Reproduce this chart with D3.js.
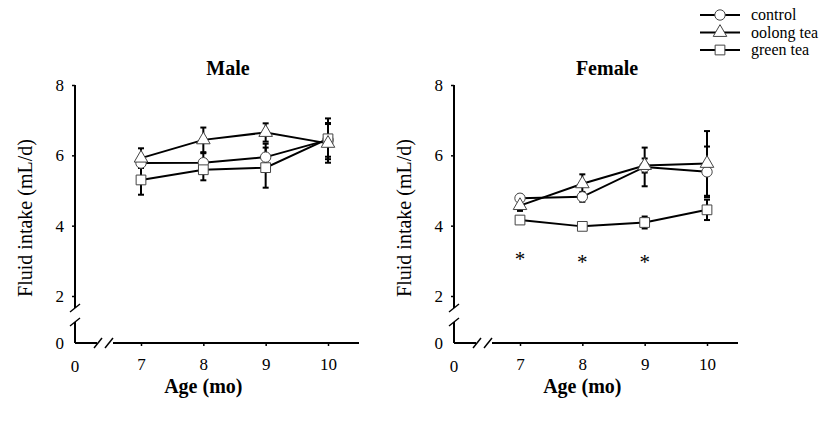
<!DOCTYPE html>
<html>
<head>
<meta charset="utf-8">
<script src="https://cdn.jsdelivr.net/npm/d3@7"></script>
<style>
  body { margin: 0; background: #fff; }
  svg text { font-family: "Liberation Serif", "DejaVu Serif", "Times New Roman", serif; }
</style>
</head>
<body>
<svg width="827" height="422"></svg>
<script>
var width = 827;
var height = 422;

var ages = [7, 8, 9, 10];
var yTicks = [2, 4, 6, 8];
var seriesNames = ["control", "oolong tea", "green tea"];
var seriesShapes = ["circle", "triangle", "square"];

// male means / errors
var maleControl = [5.78, 5.79, 5.95, 6.44];
var maleOolong = [5.92, 6.44, 6.65, 6.34];
var maleGreen = [5.30, 5.59, 5.65, 6.47];
var maleControlErr = [0.12, 0.27, 0.38, 0.48];
var maleOolongErr = [0.28, 0.35, 0.26, 0.55];
var maleGreenErr = [0.42, 0.30, 0.57, 0.58];

// female means / errors
var femaleControl = [4.78, 4.82, 5.67, 5.53];
var femaleOolong = [4.57, 5.19, 5.71, 5.77];
var femaleGreen = [4.16, 3.98, 4.09, 4.45];
var femaleControlErr = [0.10, 0.14, 0.55, 0.72];
var femaleOolongErr = [0.15, 0.27, 0.20, 0.92];
var femaleGreenErr = [0.08, 0.06, 0.17, 0.29];

// significance marks (female)
var sigAges = [7, 8, 9];
var sigY = [3.2, 3.1, 3.1];

var svg = d3.select("svg")
              .attr("width", width)
              .attr("height", height);

var y = d3.scaleLinear().domain([2, 8]).range([296, 85]);
var yZero = 343;

function symbolPath(shape) {
  if (shape == "circle") return d3.symbol().type(d3.symbolCircle).size(85)();
  if (shape == "square") return d3.symbol().type(d3.symbolSquare).size(95)();
  return d3.symbol().type(d3.symbolTriangle).size(80)();
}

function drawPanel(px, title, series, sig) {
  var g = svg.append("g");
  var x = d3.scaleLinear().domain([7, 10]).range([px + 66, px + 253]);
  var xEnd = px + 284;

  // axes lines with breaks
  var axisLines = [
    [px, 85, px, 308],
    [px, 322, px, yZero],
    [px, yZero, px + 22, yZero],
    [px + 38, yZero, xEnd, yZero]
  ];
  g.selectAll(".axl").data(axisLines).enter().append("line")
    .attr("x1", d => d[0]).attr("y1", d => d[1])
    .attr("x2", d => d[2]).attr("y2", d => d[3])
    .attr("stroke", "#000").attr("stroke-width", 2);

  // break slashes
  var slashes = [
    [px - 5, 312, px + 5, 304],
    [px - 5, 326, px + 5, 318],
    [px + 19, yZero + 5, px + 27, yZero - 5],
    [px + 30, yZero + 5, px + 38, yZero - 5]
  ];
  g.selectAll(".sl").data(slashes).enter().append("line")
    .attr("x1", d => d[0]).attr("y1", d => d[1])
    .attr("x2", d => d[2]).attr("y2", d => d[3])
    .attr("stroke", "#000").attr("stroke-width", 1.5);

  // y axis ticks + labels
  var yAxis = g.append("g")
    .attr("transform", "translate(" + px + ",0)")
    .call(d3.axisLeft(y).tickValues(yTicks).tickFormat(d3.format("d")).tickSize(3).tickPadding(8));
  yAxis.select(".domain").remove();

  // x axis ticks + labels
  var xAxis = g.append("g")
    .attr("transform", "translate(0," + yZero + ")")
    .call(d3.axisBottom(x).tickValues(ages).tickFormat(d3.format("d")).tickSize(3).tickPadding(12));
  xAxis.select(".domain").remove();

  g.selectAll(".tick line").attr("stroke", "#000").attr("stroke-width", 1.5);
  g.selectAll(".tick text")
    .attr("font-family", "Liberation Serif, DejaVu Serif, serif")
    .attr("font-size", 17).attr("fill", "#000");

  // zero labels
  g.append("text").attr("x", px - 11).attr("y", yZero + 6)
    .attr("text-anchor", "end").attr("font-size", 17).text("0");
  g.append("text").attr("x", px).attr("y", yZero + 29)
    .attr("text-anchor", "middle").attr("font-size", 17).text("0");

  // titles
  g.append("text").attr("x", px + 153).attr("y", 75)
    .attr("text-anchor", "middle").attr("font-weight", "bold")
    .attr("font-size", 20).text(title);

  g.append("text")
    .attr("transform", "translate(" + (px - 43) + ",218) rotate(-90)")
    .attr("text-anchor", "middle").attr("font-size", 20)
    .text("Fluid intake (mL/d)");

  g.append("text").attr("x", x(8)).attr("y", 393)
    .attr("text-anchor", "middle").attr("font-weight", "bold")
    .attr("font-size", 20).text("Age (mo)");

  var line = d3.line().x(d => x(d.age)).y(d => y(d.v));

  series.forEach(function(s) {
    var pts = ages.map((a, i) => ({ age: a, v: s.values[i], e: s.err[i] }));

    // error bars
    var eb = g.append("g");
    eb.selectAll(".eb").data(pts).enter().append("line")
      .attr("x1", d => x(d.age)).attr("x2", d => x(d.age))
      .attr("y1", d => y(d.v - d.e)).attr("y2", d => y(d.v + d.e))
      .attr("stroke", "#000").attr("stroke-width", 2);
    eb.selectAll(".capT").data(pts).enter().append("line")
      .attr("x1", d => x(d.age) - 3).attr("x2", d => x(d.age) + 3)
      .attr("y1", d => y(d.v + d.e)).attr("y2", d => y(d.v + d.e))
      .attr("stroke", "#000").attr("stroke-width", 2);
    eb.selectAll(".capB").data(pts).enter().append("line")
      .attr("x1", d => x(d.age) - 3).attr("x2", d => x(d.age) + 3)
      .attr("y1", d => y(d.v - d.e)).attr("y2", d => y(d.v - d.e))
      .attr("stroke", "#000").attr("stroke-width", 2);

    g.append("path").datum(pts)
      .attr("d", line).attr("fill", "none")
      .attr("stroke", "#000").attr("stroke-width", 2);
  });

  series.forEach(function(s) {
    var pts = ages.map((a, i) => ({ age: a, v: s.values[i] }));
    g.selectAll(".m").data(pts).enter().append("path")
      .attr("transform", d => "translate(" + x(d.age) + "," + y(d.v) + ")")
      .attr("d", symbolPath(s.shape))
      .attr("fill", "#fff").attr("stroke", "#444").attr("stroke-width", 1);
  });

  if (sig) {
    g.selectAll(".sig").data(sig.ages).enter().append("text")
      .attr("x", d => x(d))
      .attr("y", (d, i) => y(sig.y[i]) + 12)
      .attr("text-anchor", "middle").attr("font-size", 21)
      .text("*");
  }
}

drawPanel(75, "Male", [
  { shape: "circle", values: maleControl, err: maleControlErr },
  { shape: "square", values: maleGreen, err: maleGreenErr },
  { shape: "triangle", values: maleOolong, err: maleOolongErr }
], null);

drawPanel(454, "Female", [
  { shape: "circle", values: femaleControl, err: femaleControlErr },
  { shape: "square", values: femaleGreen, err: femaleGreenErr },
  { shape: "triangle", values: femaleOolong, err: femaleOolongErr }
], { ages: sigAges, y: sigY });

// legend
var legend = svg.append("g");
var legendRows = legend.selectAll(".lg").data(seriesNames).enter().append("g")
  .attr("transform", (d, i) => "translate(700," + (15 + i * 17.5) + ")");
legendRows.append("line")
  .attr("x1", 0).attr("x2", 40).attr("y1", 0).attr("y2", 0)
  .attr("stroke", "#000").attr("stroke-width", 2);
legendRows.append("path")
  .attr("transform", "translate(20,0)")
  .attr("d", (d, i) => symbolPath(seriesShapes[i]))
  .attr("fill", "#fff").attr("stroke", "#444").attr("stroke-width", 1);
legendRows.append("text")
  .attr("x", 51).attr("y", 5)
  .attr("font-size", 16)
  .text(d => d);
</script>
</body>
</html>
